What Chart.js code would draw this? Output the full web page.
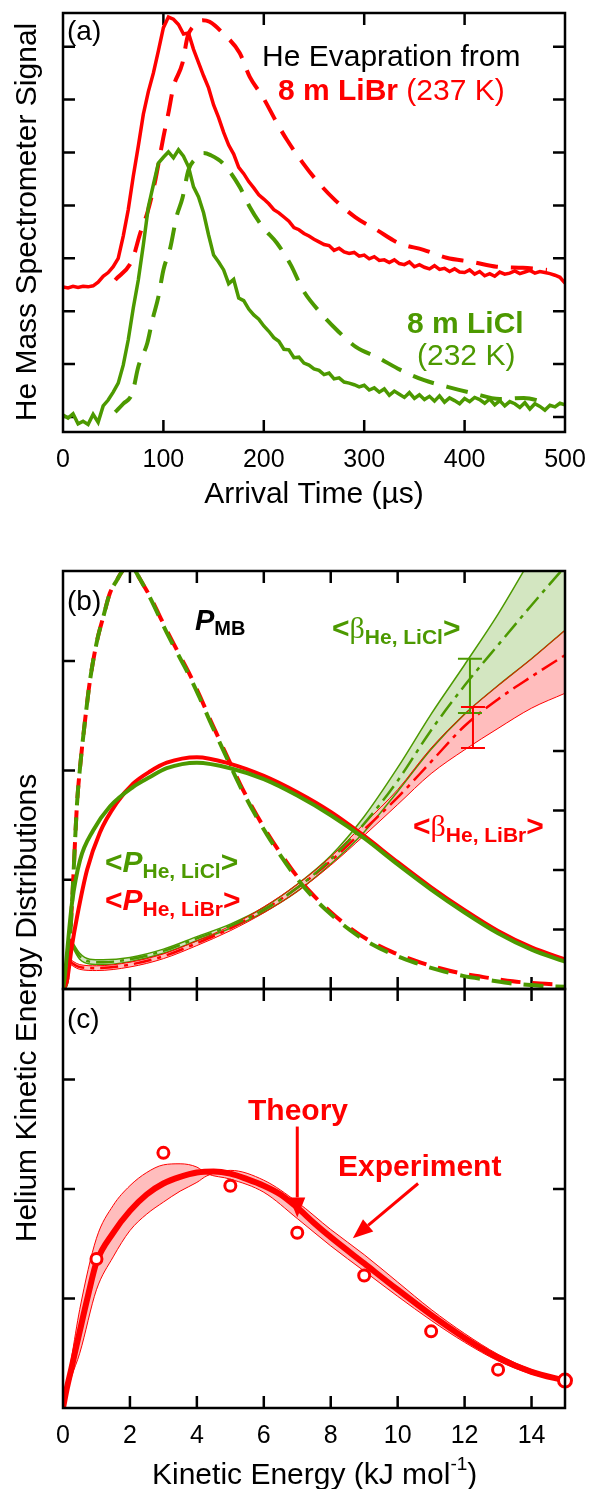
<!DOCTYPE html>
<html>
<head>
<meta charset="utf-8">
<script src="https://cdn.jsdelivr.net/npm/chart.js@4.4.1/dist/chart.umd.min.js"></script>
<style>
  body { margin: 0; background: #fff; }
  #wrap { position: relative; width: 592px; height: 1489px; }
  #wrap canvas { position: absolute; left: 0; top: 0; }
</style>
</head>
<body>
<div id="wrap">
  <canvas id="chartA" width="592" height="1489"></canvas>
  <canvas id="chartB" width="592" height="1489"></canvas>
  <canvas id="chartC" width="592" height="1489"></canvas>
</div>
<script>
const RED = "#ff0000";
const GREEN = "#4c9900";
const PINK = "#ffbdbd";
const LIGHTGREEN = "#d3e6c1";
const SANS = '"Liberation Sans", Arial, Helvetica, sans-serif';
const SERIF = '"Liberation Serif", "DejaVu Serif", serif';

// ---- (a) time-of-flight traces, arrival time in us, signal in tick units
const tofTime = [];
for (let t = 0; t <= 500; t += 5) tofTime.push(t);

const librSignal = [
  2.46, 2.44, 2.47, 2.45, 2.47, 2.46, 2.48, 2.55, 2.66, 2.73,
  2.84, 3.00, 3.42, 3.92, 4.55, 5.12, 5.72, 6.15, 6.50, 6.92,
  7.36, 7.56, 7.52, 7.42, 7.24, 7.26, 6.95, 6.70, 6.45, 6.22,
  5.90, 5.66, 5.38, 5.14, 4.97, 4.72, 4.60, 4.45, 4.33, 4.20,
  4.12, 4.03, 3.92, 3.86, 3.78, 3.70, 3.58, 3.54, 3.47, 3.42,
  3.36, 3.31, 3.26, 3.24, 3.15, 3.19, 3.12, 3.09, 3.11, 3.04,
  3.06, 2.99, 3.03, 2.96, 2.97, 2.92, 2.97, 2.90, 2.88, 2.93,
  2.84, 2.88, 2.83, 2.80, 2.86, 2.79, 2.81, 2.75, 2.80, 2.74,
  2.73, 2.78, 2.70, 2.75, 2.67, 2.71, 2.66, 2.74, 2.70, 2.72,
  2.76, 2.71, 2.74, 2.77, 2.72, 2.75, 2.73, 2.71, 2.68, 2.64,
  2.53
];
const liclSignal = [
  0.04, -0.02, 0.06, -0.13, -0.08, -0.14, 0.05, -0.10, 0.21, 0.32,
  0.47, 0.64, 0.98, 1.46, 2.06, 2.59, 3.25, 3.97, 4.39, 4.80,
  4.91, 5.01, 4.90, 5.05, 4.93, 4.73, 4.35, 4.16, 3.86, 3.44,
  3.06, 2.93, 2.78, 2.52, 2.60, 2.25, 2.20, 2.04, 1.93, 1.85,
  1.72, 1.62, 1.50, 1.43, 1.28, 1.27, 1.12, 1.13, 1.02, 0.98,
  0.91, 0.88, 0.80, 0.83, 0.72, 0.74, 0.66, 0.64, 0.61, 0.57,
  0.60, 0.51, 0.55, 0.47, 0.53, 0.41, 0.49, 0.43, 0.37, 0.46,
  0.35, 0.42, 0.33, 0.39, 0.30, 0.40, 0.28, 0.36, 0.31, 0.25,
  0.35, 0.29, 0.37, 0.33, 0.26, 0.34, 0.23, 0.31, 0.21, 0.29,
  0.25, 0.18, 0.27, 0.15, 0.25, 0.20, 0.13, 0.22, 0.19, 0.26,
  0.23
];

const libTimeFit = [52, 69, 77, 84, 92, 100, 105, 110, 119, 124, 131, 139, 146, 159, 176, 186, 199, 213, 223, 239, 254, 271, 291, 313, 334, 359, 382, 408, 432, 458, 482];
const libFit = [2.59, 2.97, 3.48, 3.86, 4.48, 5.29, 5.75, 6.24, 6.69, 7.18, 7.41, 7.50, 7.47, 7.26, 6.88, 6.43, 6.05, 5.56, 5.24, 4.80, 4.44, 4.10, 3.78, 3.53, 3.29, 3.16, 3.01, 2.93, 2.84, 2.82, 2.78];
const liclTimeFit = [52, 60, 69, 75, 84, 89, 95, 100, 107, 113, 119, 125, 133, 140, 147, 159, 176, 186, 199, 213, 227, 239, 256, 273, 292, 313, 336, 359, 383, 408, 435, 459, 480];
const liclFit = [0.09, 0.25, 0.45, 0.95, 1.40, 1.83, 2.27, 2.78, 3.21, 3.78, 4.14, 4.67, 4.90, 4.99, 4.95, 4.80, 4.35, 3.97, 3.59, 3.29, 2.87, 2.40, 1.98, 1.64, 1.32, 1.13, 0.89, 0.70, 0.57, 0.45, 0.34, 0.36, 0.28];

const tofTicksX = [100, 200, 300, 400];
const tofTickLabels = [0, 100, 200, 300, 400, 500];
const tofTicksY = [0, 1, 2, 3, 4, 5, 6, 7];

// ---- (b) kinetic energy distributions, energy in kJ/mol
const mbEnergy = [0, 0.12, 0.27, 0.42, 0.51, 0.66, 0.81, 1.02, 1.2, 1.4, 1.61, 1.79, 1.95, 2.1, 2.3, 2.6, 3.1, 3.44, 3.8, 4.09, 4.39, 4.69, 4.93, 5.3, 5.68, 6.1, 6.57, 6.87, 7.38, 7.98, 8.57, 9.11, 9.83, 10.52, 11.26, 11.95, 12.76, 13.44, 14.25, 15];
const mbLibr = [0, 0.08, 0.79, 1.70, 2.03, 2.46, 2.83, 3.19, 3.40, 3.62, 3.74, 3.83, 3.87, 3.85, 3.75, 3.59, 3.28, 3.08, 2.87, 2.68, 2.47, 2.27, 2.11, 1.87, 1.65, 1.43, 1.21, 1.08, 0.89, 0.71, 0.56, 0.45, 0.34, 0.26, 0.19, 0.14, 0.10, 0.07, 0.05, 0.04];
const mbLicl = [0, 0.08, 0.79, 1.70, 2.03, 2.46, 2.83, 3.19, 3.40, 3.62, 3.74, 3.83, 3.87, 3.85, 3.75, 3.58, 3.26, 3.06, 2.85, 2.66, 2.45, 2.25, 2.09, 1.85, 1.63, 1.41, 1.19, 1.06, 0.87, 0.69, 0.54, 0.43, 0.32, 0.24, 0.17, 0.12, 0.08, 0.05, 0.03, 0.02];

const pLibrEnergy = [0, 0.06, 0.12, 0.27, 0.42, 0.72, 1.1, 1.6, 2.1, 2.6, 3.1, 4, 5, 6, 7, 8, 9, 10, 11, 12, 13, 14, 15];
const pLibr = [0, 0.03, 0.08, 0.40, 0.66, 1.09, 1.43, 1.70, 1.88, 1.99, 2.07, 2.12, 2.06, 1.95, 1.80, 1.62, 1.40, 1.16, 0.93, 0.72, 0.53, 0.38, 0.27];
const pLiclEnergy = [0, 0.06, 0.12, 0.27, 0.51, 0.9, 1.4, 2.1, 2.6, 3.1, 4, 5, 6, 7, 8, 9, 10, 11, 12, 13, 14, 15];
const pLicl = [0, 0.13, 0.33, 0.79, 1.18, 1.45, 1.67, 1.85, 1.94, 2.02, 2.07, 2.02, 1.92, 1.77, 1.59, 1.38, 1.14, 0.91, 0.70, 0.51, 0.36, 0.25];

const betaLiclEnergy = [0.25, 0.5, 0.8, 1.2, 2, 3, 4, 5, 6, 7, 8, 9, 10, 11, 12, 13, 14, 15];
const betaLicl = [0.78, 0.55, 0.46, 0.45, 0.50, 0.64, 0.85, 1.06, 1.33, 1.70, 2.18, 2.78, 3.50, 4.35, 5.10, 5.78, 6.45, 7.10];
const betaLiclHi = [0.82, 0.60, 0.50, 0.49, 0.53, 0.67, 0.88, 1.09, 1.37, 1.76, 2.24, 2.90, 3.72, 4.62, 5.45, 6.30, 7.25, 8.20];
const betaLiclLo = [0.74, 0.50, 0.42, 0.41, 0.46, 0.60, 0.81, 1.02, 1.29, 1.64, 2.10, 2.64, 3.32, 4.03, 4.62, 5.10, 5.55, 6.03];

const betaLibrEnergy = [0.15, 0.5, 1, 2, 3, 4, 5, 6, 7, 8, 9, 10, 11, 12, 13, 14, 15];
const betaLibr = [0.48, 0.37, 0.35, 0.41, 0.55, 0.77, 1.02, 1.33, 1.70, 2.15, 2.68, 3.22, 3.82, 4.42, 4.87, 5.25, 5.61];
const betaLibrHi = [0.52, 0.41, 0.39, 0.45, 0.59, 0.81, 1.06, 1.38, 1.76, 2.22, 2.78, 3.35, 4.05, 4.62, 5.10, 5.55, 6.03];
const betaLibrLo = [0.44, 0.33, 0.31, 0.37, 0.51, 0.73, 0.98, 1.28, 1.64, 2.08, 2.58, 3.10, 3.62, 4.02, 4.38, 4.72, 4.97];

// error bars on <beta>: [energy, low, high]
const betaLiclErr = [12.16, 4.64, 5.55];
const betaLibrErr = [12.25, 4.05, 4.74];

const energyTicks = [2, 4, 6, 8, 10, 12, 14];
const energyTickLabels = [0, 2, 4, 6, 8, 10, 12, 14];
const distTicks = [1, 2, 3];
const betaTicks = [1, 2, 3, 4, 5, 6];

// ---- (c) theory vs experiment for LiBr
const theoryEnergy = [0, 0.1, 0.25, 0.5, 0.75, 1, 1.5, 2, 2.5, 3, 3.5, 4, 4.5, 5, 5.5, 6, 6.5, 7, 7.5, 8, 9, 10, 11, 12, 13, 14, 15];
const theory = [0.0, 0.16, 0.36, 0.70, 1.03, 1.33, 1.60, 1.80, 1.95, 2.05, 2.11, 2.15, 2.16, 2.14, 2.09, 2.03, 1.95, 1.83, 1.69, 1.56, 1.32, 1.08, 0.85, 0.64, 0.46, 0.33, 0.25];
const bandEnergy = [0, 0.25, 0.5, 1, 1.5, 2, 2.5, 3, 3.5, 4, 4.3, 5, 6, 7, 8, 9, 10, 11, 12, 13, 14, 15];
const bandA = [0, 0.45, 0.90, 1.55, 1.85, 2.03, 2.15, 2.22, 2.23, 2.20, 2.14, 2.09, 1.97, 1.73, 1.48, 1.25, 1.02, 0.80, 0.60, 0.43, 0.31, 0.24];
const bandB = [0, 0.28, 0.50, 1.08, 1.38, 1.62, 1.77, 1.88, 1.98, 2.06, 2.12, 2.17, 2.08, 1.88, 1.63, 1.40, 1.15, 0.90, 0.68, 0.49, 0.35, 0.26];
const pointEnergy = [1, 3, 5, 7, 9, 11, 13, 15];
const pointValue = [1.36, 2.33, 2.03, 1.60, 1.21, 0.70, 0.35, 0.25];

function pts(xs, ys) {
  return xs.map((x, i) => ({ x: x, y: ys[i] }));
}

function curve(xs, ys, color, width, extra) {
  return Object.assign(
    {
      data: pts(xs, ys),
      borderColor: color,
      borderWidth: width,
      pointRadius: 0,
      fill: false,
      cubicInterpolationMode: "monotone",
    },
    extra || {}
  );
}

function drawRuns(ctx, x, y, runs) {
  runs.forEach(function (r) {
    ctx.font = r.font;
    ctx.fillStyle = r.color;
    ctx.fillText(r.text, x, y + (r.dy || 0));
    x += ctx.measureText(r.text).width;
  });
}

function tickMarks(chart, xTicks, leftTicks, rightTicks, yLeftId, yRightId) {
  const ctx = chart.ctx;
  const { left, right, top, bottom } = chart.chartArea;
  const xs = chart.scales.x;
  const L = 12;
  ctx.save();
  ctx.strokeStyle = "#000";
  ctx.lineWidth = 2.5;
  ctx.beginPath();
  xTicks.forEach(function (v) {
    const px = xs.getPixelForValue(v);
    ctx.moveTo(px, bottom);
    ctx.lineTo(px, bottom - L);
    ctx.moveTo(px, top);
    ctx.lineTo(px, top + L);
  });
  leftTicks.forEach(function (v) {
    const py = chart.scales[yLeftId].getPixelForValue(v);
    ctx.moveTo(left, py);
    ctx.lineTo(left + L, py);
  });
  rightTicks.forEach(function (v) {
    const py = chart.scales[yRightId].getPixelForValue(v);
    ctx.moveTo(right, py);
    ctx.lineTo(right - L, py);
  });
  ctx.stroke();
  ctx.restore();
}

function frameBox(chart) {
  const ctx = chart.ctx;
  const { left, right, top, bottom } = chart.chartArea;
  ctx.save();
  ctx.strokeStyle = "#000";
  ctx.lineWidth = 2.5;
  ctx.strokeRect(left, top, right - left, bottom - top);
  ctx.restore();
}

function arrow(ctx, x1, y1, x2, y2, color) {
  const ang = Math.atan2(y2 - y1, x2 - x1);
  const head = 20;
  const half = 8;
  const bx = x2 - head * Math.cos(ang);
  const by = y2 - head * Math.sin(ang);
  ctx.save();
  ctx.strokeStyle = color;
  ctx.fillStyle = color;
  ctx.lineWidth = 3;
  ctx.beginPath();
  ctx.moveTo(x1, y1);
  ctx.lineTo(bx, by);
  ctx.stroke();
  ctx.beginPath();
  ctx.moveTo(x2, y2);
  ctx.lineTo(bx + half * Math.sin(ang), by - half * Math.cos(ang));
  ctx.lineTo(bx - half * Math.sin(ang), by + half * Math.cos(ang));
  ctx.closePath();
  ctx.fill();
  ctx.restore();
}

const baseOptions = {
  responsive: false,
  animation: false,
  events: [],
  plugins: { legend: { display: false }, tooltip: { enabled: false } },
};

// ---------- panel (a)
new Chart(document.getElementById("chartA"), {
  type: "line",
  data: {
    datasets: [
      curve(tofTime, liclSignal, GREEN, 3.5, { cubicInterpolationMode: "default", tension: 0 }),
      curve(tofTime, librSignal, RED, 3.5, { cubicInterpolationMode: "default", tension: 0 }),
      curve(liclTimeFit, liclFit, GREEN, 4, { borderDash: [22, 13] }),
      curve(libTimeFit, libFit, RED, 4, { borderDash: [22, 13] }),
    ],
  },
  options: Object.assign({}, baseOptions, {
    layout: { padding: { left: 63, right: 27, top: 13, bottom: 1057 } },
    scales: {
      x: { type: "linear", min: 0, max: 500, display: false },
      y: { type: "linear", min: -0.284, max: 7.637, display: false },
    },
  }),
  plugins: [
    {
      id: "panelA",
      beforeDraw(chart) {
        tickMarks(chart, tofTicksX, tofTicksY, tofTicksY, "y", "y");
      },
      afterDatasetsDraw(chart) {
        frameBox(chart);
      },
      afterDraw(chart) {
        const ctx = chart.ctx;
        const xs = chart.scales.x;
        const { bottom } = chart.chartArea;
        ctx.save();
        ctx.textAlign = "center";
        ctx.fillStyle = "#000";
        ctx.font = "25px " + SANS;
        tofTickLabels.forEach(function (v) {
          ctx.fillText(String(v), xs.getPixelForValue(v), bottom + 35);
        });
        ctx.font = "30px " + SANS;
        ctx.fillText("Arrival Time (\u00b5s)", 314, 503);
        ctx.save();
        ctx.translate(36, 222);
        ctx.rotate(-Math.PI / 2);
        ctx.fillText("He Mass Spectrometer Signal", 0, 0);
        ctx.restore();
        ctx.textAlign = "left";
        ctx.font = "28px " + SANS;
        ctx.fillText("(a)", 67, 40);
        ctx.font = "30px " + SANS;
        ctx.fillText("He Evapration from", 262, 66);
        drawRuns(ctx, 278, 100, [
          { text: "8 m LiBr", font: "bold 30px " + SANS, color: RED },
          { text: " (237 K)", font: "30px " + SANS, color: RED },
        ]);
        drawRuns(ctx, 407, 333, [{ text: "8 m LiCl", font: "bold 30px " + SANS, color: GREEN }]);
        drawRuns(ctx, 417, 365, [{ text: "(232 K)", font: "30px " + SANS, color: GREEN }]);
        ctx.restore();
      },
    },
  ],
});

// ---------- panel (b)
new Chart(document.getElementById("chartB"), {
  type: "line",
  data: {
    datasets: [
      curve(pLiclEnergy, pLicl, GREEN, 4, { yAxisID: "yP" }),
      curve(pLibrEnergy, pLibr, RED, 4, { yAxisID: "yP" }),
      curve(mbEnergy, mbLicl, GREEN, 4, { yAxisID: "yP", borderDash: [20, 12], borderDashOffset: 7 }),
      curve(mbEnergy, mbLibr, RED, 4, { yAxisID: "yP", borderDash: [20, 12] }),
      curve(betaLiclEnergy, betaLicl, GREEN, 2.5, { yAxisID: "yB", borderDash: [18, 6, 4, 6] }),
      curve(betaLibrEnergy, betaLibr, RED, 2.5, { yAxisID: "yB", borderDash: [18, 6, 4, 6] }),
      curve(betaLibrEnergy, betaLibrHi, RED, 1, { yAxisID: "yB", fill: "+1", backgroundColor: PINK }),
      curve(betaLibrEnergy, betaLibrLo, RED, 1, { yAxisID: "yB" }),
      curve(betaLiclEnergy, betaLiclHi, GREEN, 1.5, { yAxisID: "yB", fill: "+1", backgroundColor: LIGHTGREEN }),
      curve(betaLiclEnergy, betaLiclLo, GREEN, 1.5, { yAxisID: "yB" }),
    ],
  },
  options: Object.assign({}, baseOptions, {
    layout: { padding: { left: 63, right: 27, top: 571, bottom: 500 } },
    plugins: {
      legend: { display: false },
      tooltip: { enabled: false },
      filler: { drawTime: "beforeDatasetsDraw" },
    },
    scales: {
      x: { type: "linear", min: 0, max: 15, display: false },
      yP: { type: "linear", position: "left", min: 0, max: 3.824, display: false },
      yB: { type: "linear", position: "right", min: 0, max: 7.025, display: false },
    },
  }),
  plugins: [
    {
      id: "panelB",
      beforeDraw(chart) {
        tickMarks(chart, energyTicks, distTicks, betaTicks, "yP", "yB");
      },
      afterDatasetsDraw(chart) {
        const ctx = chart.ctx;
        const xs = chart.scales.x;
        const yb = chart.scales.yB;
        [[betaLiclErr, GREEN], [betaLibrErr, RED]].forEach(function (e) {
          const px = xs.getPixelForValue(e[0][0]);
          const y1 = yb.getPixelForValue(e[0][1]);
          const y2 = yb.getPixelForValue(e[0][2]);
          ctx.save();
          ctx.strokeStyle = e[1];
          ctx.lineWidth = 2;
          ctx.beginPath();
          ctx.moveTo(px, y1);
          ctx.lineTo(px, y2);
          ctx.moveTo(px - 12, y1);
          ctx.lineTo(px + 12, y1);
          ctx.moveTo(px - 12, y2);
          ctx.lineTo(px + 12, y2);
          ctx.stroke();
          ctx.restore();
        });
        frameBox(chart);
      },
      afterDraw(chart) {
        const ctx = chart.ctx;
        ctx.save();
        ctx.textAlign = "left";
        ctx.fillStyle = "#000";
        ctx.font = "28px " + SANS;
        ctx.fillText("(b)", 67, 610);
        drawRuns(ctx, 195, 630, [
          { text: "P", font: "italic bold 29px " + SANS, color: "#000" },
          { text: "MB", font: "bold 20px " + SANS, color: "#000", dy: 5 },
        ]);
        drawRuns(ctx, 332, 638, [
          { text: "<", font: "bold 30px " + SANS, color: GREEN },
          { text: "\u03b2", font: "30px " + SERIF, color: GREEN },
          { text: "He, LiCl", font: "bold 21px " + SANS, color: GREEN, dy: 6 },
          { text: ">", font: "bold 30px " + SANS, color: GREEN },
        ]);
        drawRuns(ctx, 105, 872, [
          { text: "<", font: "bold 30px " + SANS, color: GREEN },
          { text: "P", font: "italic bold 30px " + SANS, color: GREEN },
          { text: "He, LiCl", font: "bold 21px " + SANS, color: GREEN, dy: 6 },
          { text: ">", font: "bold 30px " + SANS, color: GREEN },
        ]);
        drawRuns(ctx, 105, 910, [
          { text: "<", font: "bold 30px " + SANS, color: RED },
          { text: "P", font: "italic bold 30px " + SANS, color: RED },
          { text: "He, LiBr", font: "bold 21px " + SANS, color: RED, dy: 6 },
          { text: ">", font: "bold 30px " + SANS, color: RED },
        ]);
        drawRuns(ctx, 413, 836, [
          { text: "<", font: "bold 30px " + SANS, color: RED },
          { text: "\u03b2", font: "30px " + SERIF, color: RED },
          { text: "He, LiBr", font: "bold 21px " + SANS, color: RED, dy: 6 },
          { text: ">", font: "bold 30px " + SANS, color: RED },
        ]);
        ctx.restore();
      },
    },
  ],
});

// ---------- panel (c)
const theoryArrow = { x: 7, from: 2.57, to: 1.74 };
const experimentArrow = { x1: 10.61, y1: 2.05, x2: 8.66, y2: 1.55 };

new Chart(document.getElementById("chartC"), {
  type: "line",
  data: {
    datasets: [
      {
        data: pts(pointEnergy, pointValue),
        showLine: false,
        pointRadius: pointEnergy.map((e) => (e === 15 ? 6.5 : 5.5)),
        pointBorderWidth: 3,
        pointBorderColor: RED,
        pointBackgroundColor: "#fff",
        borderColor: RED,
        clip: 10,
      },
      curve(theoryEnergy, theory, RED, 6),
      curve(bandEnergy, bandA, RED, 1, { fill: "+1", backgroundColor: PINK }),
      curve(bandEnergy, bandB, RED, 1),
    ],
  },
  options: Object.assign({}, baseOptions, {
    layout: { padding: { left: 63, right: 27, top: 989, bottom: 81 } },
    plugins: {
      legend: { display: false },
      tooltip: { enabled: false },
      filler: { drawTime: "beforeDatasetsDraw" },
    },
    scales: {
      x: { type: "linear", min: 0, max: 15, display: false },
      y: { type: "linear", min: 0, max: 3.826, display: false },
    },
  }),
  plugins: [
    {
      id: "panelC",
      beforeDraw(chart) {
        tickMarks(chart, energyTicks, distTicks, distTicks, "y", "y");
      },
      afterDatasetsDraw(chart) {
        const ctx = chart.ctx;
        const xs = chart.scales.x;
        const ys = chart.scales.y;
        arrow(ctx, xs.getPixelForValue(theoryArrow.x), ys.getPixelForValue(theoryArrow.from),
          xs.getPixelForValue(theoryArrow.x), ys.getPixelForValue(theoryArrow.to), RED);
        arrow(ctx, xs.getPixelForValue(experimentArrow.x1), ys.getPixelForValue(experimentArrow.y1),
          xs.getPixelForValue(experimentArrow.x2), ys.getPixelForValue(experimentArrow.y2), RED);
        frameBox(chart);
      },
      afterDraw(chart) {
        const ctx = chart.ctx;
        const xs = chart.scales.x;
        const { bottom } = chart.chartArea;
        ctx.save();
        ctx.fillStyle = "#000";
        ctx.textAlign = "center";
        ctx.font = "25px " + SANS;
        energyTickLabels.forEach(function (v) {
          ctx.fillText(String(v), xs.getPixelForValue(v), bottom + 35);
        });
        ctx.textAlign = "left";
        drawRuns(ctx, 152, 1484, [
          { text: "Kinetic Energy (kJ mol", font: "30px " + SANS, color: "#000" },
          { text: "-1", font: "19px " + SANS, color: "#000", dy: -14 },
          { text: ")", font: "30px " + SANS, color: "#000" },
        ]);
        ctx.textAlign = "center";
        ctx.save();
        ctx.translate(36, 1008);
        ctx.rotate(-Math.PI / 2);
        ctx.font = "30px " + SANS;
        ctx.fillText("Helium Kinetic Energy Distributions", 0, 0);
        ctx.restore();
        ctx.textAlign = "left";
        ctx.font = "28px " + SANS;
        ctx.fillText("(c)", 67, 1028);
        ctx.fillStyle = RED;
        ctx.font = "bold 30px " + SANS;
        ctx.fillText("Theory", 248, 1120);
        ctx.fillText("Experiment", 338, 1176);
        ctx.restore();
      },
    },
  ],
});
</script>
</body>
</html>
